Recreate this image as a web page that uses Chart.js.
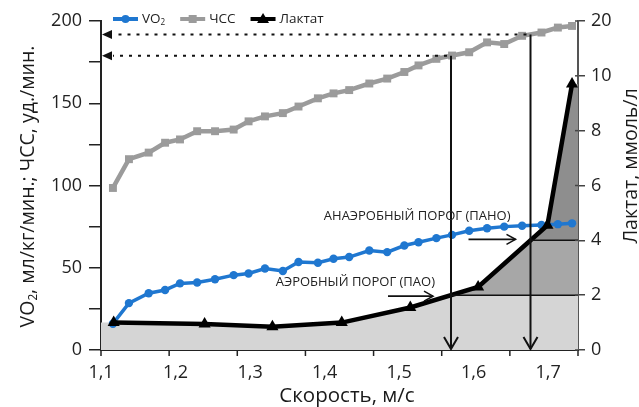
<!DOCTYPE html>
<html><head><meta charset="utf-8">
<script src="https://cdn.jsdelivr.net/npm/chart.js@4"></script>
<style>html,body{margin:0;padding:0;background:#fff}</style>
</head><body>
<canvas id="c" width="639" height="407"></canvas>
<script>
// ---- data ----
const speeds = [1.116,1.1375,1.164,1.186,1.206,1.229,1.253,1.278,1.298,1.320,1.344,1.365,1.391,1.412,1.433,1.460,1.484,1.507,1.526,1.550,1.571,1.594,1.618,1.641,1.665,1.691,1.713,1.732];
const vo2 = [16,28.5,34.5,36.5,40.5,41,43,45.5,46.5,49.5,48,53.5,53,55.5,56.5,60.5,59.5,63.5,65.5,68,70,72.5,74,75,75.5,76,76.5,77];
const hr = [98.5,116,120,126,128,133,133,134,139,142,144,148,153,156,158,162,165,169,173,177,179,181,187,186,191,193,196,197];
const lactateSpeeds = [1.117,1.239,1.330,1.423,1.515,1.606,1.699,1.732];
const lactate = [1.0,0.95,0.85,1.0,1.55,2.3,4.55,9.7];
const thresholds = [2, 4];
const thresholdNames = ['АЭРОБНЫЙ ПОРОГ (ПАО)', 'АНАЭРОБНЫЙ ПОРОГ (ПАНО)'];
const xTickValues = [1.1,1.2,1.3,1.4,1.5,1.6,1.7];
const xTickLabels = ['1,1','1,2','1,3','1,4','1,5','1,6','1,7'];
const rightTickLabels = ['0','2','4','6','8','10','20'];
const seriesNames = ['VO₂', 'ЧСС', 'Лактат'];
const leftTitle = 'VO₂, мл/кг/мин.; ЧСС, уд./мин.';
const rightTitle = 'Лактат, ммоль/л';
const xTitle = 'Скорость, м/с';

// ---- layout / style ----
const X_MIN = 1.1, X_MAX = 1.74;
const FONT = "'Open Sans', 'Noto Sans', sans-serif";
const C_VO2 = '#1f77d0', C_HR = '#9b9b9b', C_LAC = '#000000';
const ZONE = ['#d5d5d5', '#a7a7a7', '#8e8e8e'];

function interp(xs, ys, x) {
  for (let i = 0; i < xs.length - 1; i++) {
    if (x >= xs[i] && x <= xs[i + 1]) return ys[i] + (x - xs[i]) / (xs[i + 1] - xs[i]) * (ys[i + 1] - ys[i]);
  }
  return x < xs[0] ? ys[0] : ys[ys.length - 1];
}
function crossSpeed(level) {
  for (let i = 0; i < lactate.length - 1; i++) {
    if (lactate[i] < level && lactate[i + 1] >= level)
      return lactateSpeeds[i] + (level - lactate[i]) / (lactate[i + 1] - lactate[i]) * (lactateSpeeds[i + 1] - lactateSpeeds[i]);
  }
  return null;
}
const SUB = '₀₁₂₃₄₅₆₇₈₉';
function segs(str) {
  const out = [];
  for (const ch of str) {
    const si = SUB.indexOf(ch);
    const sub = si >= 0; const t = sub ? String(si) : ch;
    if (out.length && out[out.length - 1].sub === sub) out[out.length - 1].t += t;
    else out.push({ t, sub });
  }
  return out;
}
function richWidth(ctx, str, size) {
  let w = 0;
  segs(str).forEach(s => { ctx.font = (s.sub ? size * 0.6 : size) + 'px ' + FONT; w += ctx.measureText(s.t).width; });
  return w;
}
function drawRich(ctx, str, x, y, size, align) {
  const w = richWidth(ctx, str, size);
  let cx = align === 'center' ? x - w / 2 : (align === 'right' ? x - w : x);
  ctx.textAlign = 'left'; ctx.textBaseline = 'middle';
  segs(str).forEach(s => {
    ctx.font = (s.sub ? size * 0.6 : size) + 'px ' + FONT;
    ctx.fillText(s.t, cx, y + (s.sub ? size * 0.28 : 0));
    cx += ctx.measureText(s.t).width;
  });
}
function line(ctx, x1, y1, x2, y2) { ctx.beginPath(); ctx.moveTo(x1, y1); ctx.lineTo(x2, y2); ctx.stroke(); }

const areaData = [{ x: X_MIN, y: lactate[0] }]
  .concat(lactateSpeeds.map((s, i) => ({ x: s, y: lactate[i] })))
  .concat([{ x: X_MAX, y: lactate[lactate.length - 1] }]);

const zoneFill = (c) => {
  const ch = c.chart;
  if (!ch.chartArea || !ch.scales.yR) return ZONE[0];
  const ys = ch.scales.yR;
  const y0 = ys.getPixelForValue(ys.min), y1 = ys.getPixelForValue(ys.max);
  const g = ch.ctx.createLinearGradient(0, y0, 0, y1);
  const f = v => (ys.getPixelForValue(v) - y0) / (y1 - y0);
  g.addColorStop(0, ZONE[0]);
  g.addColorStop(f(thresholds[0]), ZONE[0]);
  g.addColorStop(f(thresholds[0]), ZONE[1]);
  g.addColorStop(f(thresholds[1]), ZONE[1]);
  g.addColorStop(f(thresholds[1]), ZONE[2]);
  g.addColorStop(1, ZONE[2]);
  return g;
};

const decor = {
  id: 'decor',
  afterDatasetsDraw(chart) {
    const ctx = chart.ctx, ca = chart.chartArea;
    const xs = chart.scales.x, yl = chart.scales.y, yr = chart.scales.yR;
    ctx.save();
    ctx.strokeStyle = '#111'; ctx.fillStyle = '#111';
    const lab = [
      { tx: -16, ty: -13, a0: -63, a1: -18, ay: 1 },
      { tx: -20, ty: -24, a0: -62, a1: -15, ay: -1 }
    ];
    thresholds.forEach((L, k) => {
      const sp = crossSpeed(L);
      const px = xs.getPixelForValue(sp);
      const py = yl.getPixelForValue(interp(speeds, hr, sp));
      const ly = yr.getPixelForValue(L);
      ctx.lineWidth = 1.5; line(ctx, px, ly, ca.right, ly);
      ctx.lineWidth = 2; line(ctx, px, py, px, ca.bottom - 1);
      ctx.beginPath(); ctx.moveTo(px - 7, ca.bottom - 13); ctx.lineTo(px, ca.bottom - 1); ctx.lineTo(px + 7, ca.bottom - 13); ctx.stroke();
      ctx.setLineDash([3, 6]); ctx.lineWidth = 2;
      line(ctx, px - 4, py, ca.left + 12, py);
      ctx.setLineDash([]);
      ctx.beginPath(); ctx.moveTo(ca.left + 1, py); ctx.lineTo(ca.left + 11, py - 4.5); ctx.lineTo(ca.left + 11, py + 4.5); ctx.closePath(); ctx.fill();
      const o = lab[k];
      ctx.fillStyle = '#222';
      ctx.font = '13px ' + FONT; ctx.textAlign = 'right'; ctx.textBaseline = 'middle';
      ctx.fillText(thresholdNames[k], px + o.tx, ly + o.ty);
      ctx.fillStyle = '#111';
      ctx.lineWidth = 1.6;
      const ay = ly + o.ay;
      line(ctx, px + o.a0, ay, px + o.a1, ay);
      ctx.beginPath(); ctx.moveTo(px + o.a1 - 9, ay - 5); ctx.lineTo(px + o.a1, ay); ctx.lineTo(px + o.a1 - 9, ay + 5); ctx.stroke();
    });
    ctx.strokeStyle = '#222'; ctx.lineWidth = 1.5;
    for (let i = 0; i <= 7; i++) {
      const x = ca.left + (ca.right - ca.left) * i / 7;
      line(ctx, x, ca.bottom, x, ca.bottom + 6);
    }
    ctx.strokeStyle = '#444';
    yr.ticks.forEach(t => { const y = yr.getPixelForValue(t.value); line(ctx, ca.right - 3, y, ca.right, y); });

    ctx.fillStyle = '#1a1a1a';
    ctx.save(); ctx.translate(28, (ca.top + ca.bottom) / 2 + 1); ctx.rotate(-Math.PI / 2);
    drawRich(ctx, leftTitle, 0, 0, 19.5, 'center'); ctx.restore();
    ctx.save(); ctx.translate(631, 166); ctx.rotate(-Math.PI / 2);
    drawRich(ctx, rightTitle, 0, 0, 19.5, 'center'); ctx.restore();
    drawRich(ctx, xTitle, 347, 396, 20.5, 'center');

    let lx = 113; const lyy = 19;
    const dsIdx = [2, 3, 1];
    dsIdx.forEach((di) => {
      const ds = chart.data.datasets[di];
      ctx.strokeStyle = ds.borderColor; ctx.fillStyle = ds.borderColor; ctx.lineWidth = 4;
      line(ctx, lx, lyy, lx + 25, lyy);
      const cx = lx + 12.5;
      if (ds.pointStyle === 'circle') { ctx.beginPath(); ctx.arc(cx, lyy, 4, 0, Math.PI * 2); ctx.fill(); }
      else if (ds.pointStyle === 'rect') { ctx.fillRect(cx - 4, lyy - 4, 8, 8); }
      else { ctx.beginPath(); ctx.moveTo(cx, lyy - 6); ctx.lineTo(cx + 6, lyy + 4); ctx.lineTo(cx - 6, lyy + 4); ctx.closePath(); ctx.fill(); }
      lx += 29;
      ctx.fillStyle = '#222';
      drawRich(ctx, ds.label, lx, lyy, 13.5, 'left');
      lx += richWidth(ctx, ds.label, 13.5) + 15;
    });
    ctx.restore();
  }
};

new Chart(document.getElementById('c'), {
  type: 'line',
  data: {
    datasets: [
      { label: 'zones', data: areaData, yAxisID: 'yR', fill: 'origin', backgroundColor: zoneFill,
        borderWidth: 0, pointRadius: 0, order: 10 },
      { label: seriesNames[2], data: lactateSpeeds.map((s, i) => ({ x: s, y: lactate[i] })), yAxisID: 'yR',
        borderColor: C_LAC, backgroundColor: C_LAC, borderWidth: 4.5, pointStyle: 'triangle', pointRadius: 7,
        pointBorderWidth: 0, fill: false, order: 1 },
      { label: seriesNames[0], data: speeds.map((s, i) => ({ x: s, y: vo2[i] })), yAxisID: 'y',
        borderColor: C_VO2, backgroundColor: C_VO2, borderWidth: 3.5, pointStyle: 'circle', pointRadius: 4.2,
        pointBorderWidth: 0, fill: false, order: 2 },
      { label: seriesNames[1], data: speeds.map((s, i) => ({ x: s, y: hr[i] })), yAxisID: 'y',
        borderColor: C_HR, backgroundColor: C_HR, borderWidth: 4.5, pointStyle: 'rect', pointRadius: 5.6,
        pointBorderWidth: 0, fill: false, order: 3 }
    ]
  },
  options: {
    responsive: false, animation: false, devicePixelRatio: 1,
    layout: { padding: { top: 21, left: 0, right: 0, bottom: 0 } },
    plugins: { legend: { display: false }, tooltip: { enabled: false } },
    elements: { line: { tension: 0 } },
    scales: {
      x: {
        type: 'linear', position: 'bottom', min: X_MIN, max: X_MAX,
        afterBuildTicks: s => { s.ticks = xTickValues.map(v => ({ value: v })); },
        ticks: { callback: (v, i) => xTickLabels[i], font: { family: FONT, size: 18 }, color: '#222', padding: 4, maxRotation: 0, autoSkip: false },
        grid: { display: false },
        border: { display: true, color: '#222', width: 2 },
        afterFit: s => { s.height = 57; }
      },
      y: {
        position: 'left', min: 0, max: 200,
        ticks: { stepSize: 25, callback: v => (v % 50 === 0 ? String(v) : ''), font: { family: FONT, size: 18 }, color: '#222', padding: 7, autoSkip: false },
        grid: { drawOnChartArea: false, drawTicks: true, tickLength: 12, color: '#222', lineWidth: 1.5 },
        border: { display: true, color: '#222', width: 2 },
        afterFit: s => { s.width = 101; }
      },
      yR: {
        position: 'right', min: 0, max: 12,
        ticks: { stepSize: 2, callback: (v, i) => rightTickLabels[i], font: { family: FONT, size: 18 }, color: '#222', padding: 6, autoSkip: false },
        grid: { drawOnChartArea: false, drawTicks: true, tickLength: 7, color: '#444', lineWidth: 1.5 },
        border: { display: true, color: '#555', width: 2 },
        afterFit: s => { s.width = 61; }
      }
    }
  },
  plugins: [decor]
});
</script>
</body></html>
